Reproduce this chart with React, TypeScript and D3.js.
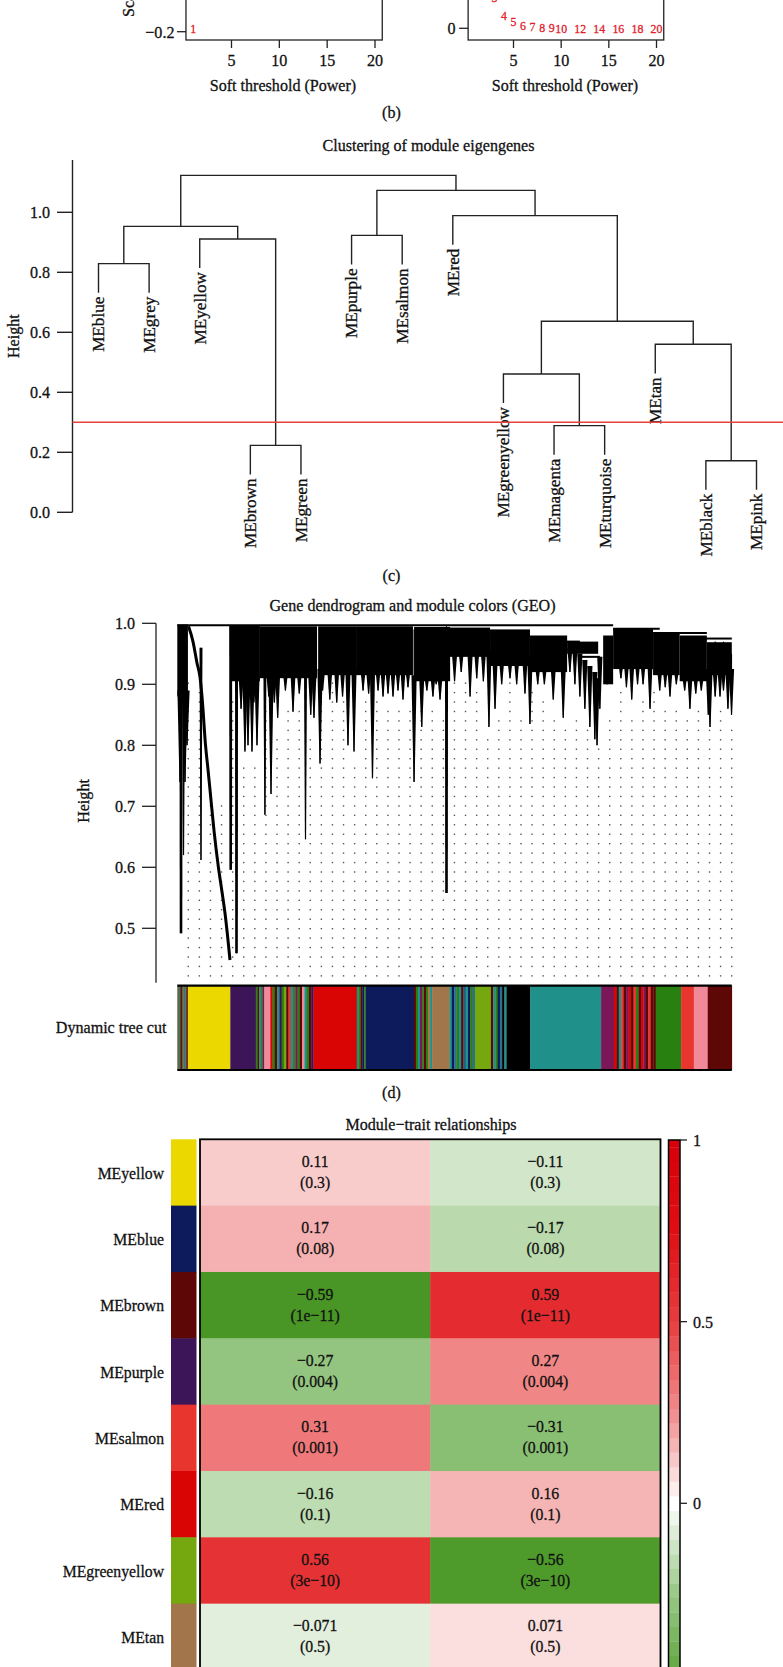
import React from 'react';
import * as d3 from 'd3';

const W = 783;
const H = 1667;
const FONT = '"Liberation Serif", "Times New Roman", serif';
const FS = 17.3;
const SX = 0.93;

// ---------- Panel (b): soft threshold ----------
const fitPowers = [1];
const fitValues = [-0.187];
const connPowers = [3, 4, 5, 6, 7, 8, 9, 10, 12, 14, 16, 18, 20];
const connValues = [112, 45, 23, 11, 5.7, 3.6, 1.1, 0, 0, 0, 0, 0, 0];
const powerTicks = [5, 10, 15, 20];

// ---------- Panel (c): module eigengene clustering ----------
const moduleLeaves = ['MEblue', 'MEgrey', 'MEyellow', 'MEbrown', 'MEgreen', 'MEpurple', 'MEsalmon', 'MEred',
  'MEgreenyellow', 'MEmagenta', 'MEturquoise', 'MEtan', 'MEblack', 'MEpink'];
// R-style merge matrix: negative = leaf (1-based), positive = earlier merge (1-based)
const mergeLeft = [-1, -4, -3, 1, -6, -10, -9, -13, -12, 7, -8, 5, 4];
const mergeRight = [-2, -5, 2, 3, -7, -11, 6, -14, 8, 9, 10, 11, 12];
const mergeHeight = [0.829, 0.223, 0.911, 0.953, 0.923, 0.289, 0.461, 0.172, 0.56, 0.637, 0.989, 1.073, 1.123];
const cutHeight = 0.3;
const heightTicks = [0, 0.2, 0.4, 0.6, 0.8, 1.0];

// ---------- Panel (d): gene dendrogram (leaf rank 0..1000) ----------
const clusterFrom = [0, 97, 149, 254, 324, 427, 490, 564, 636, 703, 768, 786, 858, 906, 955];
const clusterTo = [19, 149, 252, 324, 425, 492, 564, 636, 703, 759, 786, 858, 906, 955, 1000];
const clusterTop = [0.998, 0.997, 0.995, 0.995, 0.995, 0.994, 0.993, 0.99, 0.98, 0.97, 0.98, 0.992, 0.985, 0.98, 0.969];
const clusterCore = [0.88, 0.905, 0.91, 0.915, 0.915, 0.905, 0.945, 0.93, 0.92, 0.95, 0.9, 0.925, 0.915, 0.905, 0.915];
const spikeRank = [4.9, 6.7, 11.2, 13.9, 17.5, 42.7, 96.3, 106.8, 122, 127.5, 134.7, 143.7, 158, 169, 181, 208.7,
  231.2, 240.6, 246.5, 257.4, 287.5, 307.8, 318.7, 352, 371, 389, 407, 427, 440.8, 461, 473.8, 485.5, 528, 562,
  573, 627, 636, 678, 696, 708, 717, 726, 735, 744, 753, 757, 762, 819.5, 840, 852.5, 888.5, 924.5, 957.6, 960.7,
  978.7, 993, 999.5, 115, 138, 165, 175, 195, 220, 262, 275, 298, 335, 345, 362, 380, 398, 416, 450, 467, 500,
  512, 540, 552, 585, 600, 612, 650, 662, 688, 775, 800, 810, 830, 870, 880, 900, 915, 935, 945, 970, 985];
const spikeTop = [0.99, 0.99, 0.99, 0.99, 0.99, 0.96, 0.997, 0.985, 0.95, 0.95, 0.95, 0.95, 0.99, 0.99, 0.95, 0.95,
  0.99, 0.95, 0.95, 0.99, 0.95, 0.95, 0.95, 0.99, 0.95, 0.95, 0.95, 0.99, 0.95, 0.95, 0.95, 0.995, 0.95, 0.97,
  0.95, 0.95, 0.95, 0.95, 0.95, 0.97, 0.96, 0.95, 0.94, 0.93, 0.92, 0.91, 0.945, 0.95, 0.95, 0.95, 0.95, 0.95, 0.95, 0.95,
  0.95, 0.95, 0.95, 0.95, 0.95, 0.95, 0.95, 0.95, 0.95, 0.95, 0.95, 0.95, 0.95, 0.95, 0.95, 0.95, 0.95, 0.95,
  0.95, 0.95, 0.95, 0.97, 0.97, 0.97, 0.97, 0.97, 0.97, 0.97, 0.97, 0.97, 0.97, 0.97, 0.97, 0.97, 0.97, 0.97,
  0.97, 0.97, 0.97, 0.97, 0.97, 0.97, 0.97];
const spikeBottom = [0.74, 0.492, 0.62, 0.74, 0.8, 0.612, 0.596, 0.459, 0.79, 0.8, 0.79, 0.8, 0.686, 0.72, 0.845, 0.855,
  0.646, 0.85, 0.845, 0.77, 0.87, 0.8, 0.79, 0.746, 0.88, 0.88, 0.875, 0.74, 0.83, 0.88, 0.875, 0.558, 0.88, 0.83,
  0.86, 0.885, 0.835, 0.875, 0.845, 0.92, 0.9, 0.88, 0.86, 0.83, 0.81, 0.8, 0.86, 0.875, 0.9, 0.86, 0.88, 0.86, 0.85, 0.83,
  0.88, 0.86, 0.85, 0.86, 0.87, 0.88, 0.87, 0.89, 0.885, 0.89, 0.875, 0.88, 0.89, 0.885, 0.89, 0.885, 0.89,
  0.895, 0.89, 0.9, 0.905, 0.92, 0.91, 0.905, 0.9, 0.91, 0.9, 0.9, 0.9, 0.92, 0.9, 0.91, 0.895, 0.9, 0.89,
  0.895, 0.9, 0.89, 0.885, 0.89, 0.88, 0.89];
const slantRank = [20.2, 28.3, 35.5, 40.9, 46.3, 50, 55.4, 59, 66.2, 74, 80.6, 86, 91.5, 95];
const slantHeight = [0.995, 0.97, 0.935, 0.912, 0.86, 0.81, 0.76, 0.727, 0.66, 0.601, 0.56, 0.525, 0.48, 0.448];
const mergeLineFrom = [0, 786, 858, 944, 564, 672, 726];
const mergeLineTo = [786, 870, 955, 1000, 636, 726, 762];
const mergeLineHeight = [0.997, 0.991, 0.984, 0.975, 0.98, 0.97, 0.945];
const dotTopHeight = [0.92, 0.9, 0.716, 0.716, 0.89, 0.78, 0.78, 0.87, 0.83, 0.88, 0.88, 0.83, 0.91, 0.915, 0.89,
  0.785, 0.89, 0.885, 0.88, 0.88, 0.87, 0.87, 0.88, 0.86, 0.916, 0.916, 0.9, 0.83, 0.855, 0.93, 0.86, 0.9, 0.89,
  0.86, 0.84, 0.86, 0.84, 0.81, 0.86, 0.91, 0.86, 0.89, 0.9, 0.88, 0.88, 0.855, 0.88, 0.84, 0.88, 0.84];
const geneTicks = [0.5, 0.6, 0.7, 0.8, 0.9, 1.0];

// module colour strip
const mix1 = ['#7A5A3A', '#2E7D6E', '#5E0707', '#3B7A2A', '#8A4A5A', '#20918A', '#5E0707'];
const mix2 = ['#27800F', '#5E0707', '#20918A', '#3B7A2A', '#7B1657'];
const mix3 = ['#D90505', '#27800F', '#5E0707', '#20918A', '#3B1557', '#27800F', '#75A80F', '#5E0707', '#E8362F',
  '#20918A', '#3B7A2A', '#7B1657', '#27800F', '#5E0707', '#F08A9A', '#20918A', '#27800F', '#5E0707', '#3B1557', '#D90505'];
const mix4 = ['#20918A', '#27800F', '#5E0707', '#0D1A5C', '#3B7A2A'];
const mix5 = ['#5E0707', '#27800F', '#20918A', '#7B1657', '#3B7A2A', '#5E0707', '#27800F', '#A3754A', '#20918A'];
const mix6 = ['#20918A', '#0D1A5C', '#2E6E8E', '#27800F', '#20918A', '#5E0707', '#1F5F7F', '#20918A', '#0D1A5C',
  '#27800F', '#2E6E8E'];
const mix7 = ['#5E0707', '#20918A', '#27800F', '#0D1A5C', '#2E6E8E', '#000000', '#20918A'];
const mix9 = ['#D90505', '#5E0707', '#20918A', '#E8362F', '#5E0707', '#7B1657', '#D90505', '#5E0707', '#E8362F',
  '#27800F', '#5E0707', '#D90505', '#7B1657', '#5E0707', '#E8362F', '#5E0707', '#5E0707'];
const stripFrom = [0, 18.9, 95.6, 141.6, 156.9, 167.7, 249.7, 323.7, 340.1, 426.7, 459.5, 491, 536.8, 565.6, 593.9,
  636.4, 764.3, 787.2, 862.8, 908.6, 931.5, 956.6];
const stripTo = [18.9, 95.6, 141.6, 156.9, 167.7, 249.7, 323.7, 340.1, 426.7, 459.5, 491, 536.8, 565.6, 593.9, 636.4,
  764.3, 787.2, 862.8, 908.6, 931.5, 956.6, 1000];
const stripColors = [mix1, ['#EAD800'], ['#3B1557'], mix2, ['#F08A9A'], mix3, ['#D90505'], mix4, ['#0D1A5C'], mix5,
  ['#A3754A'], mix6, ['#75A80F'], mix7, ['#000000'], ['#20918A'], ['#7B1657'], mix9, ['#27800F'], ['#E8362F'],
  ['#F08A9A'], ['#5E0707']];

// ---------- Panel (e): module-trait relationships ----------
const traitRows = ['MEyellow', 'MEblue', 'MEbrown', 'MEpurple', 'MEsalmon', 'MEred', 'MEgreenyellow', 'MEtan'];
const rowColors = ['#EAD800', '#0D1A5C', '#5E0707', '#3B1557', '#E8362F', '#D90505', '#75A80F', '#A3754A'];
const traitCols = ['trait1', 'trait2'];
const corTrait1 = [0.11, 0.17, -0.59, -0.27, 0.31, -0.16, 0.56, -0.071];
const corTrait2 = [-0.11, -0.17, 0.59, 0.27, -0.31, 0.16, -0.56, 0.071];
const pValues = ['0.3', '0.08', '1e-11', '0.004', '0.001', '0.1', '3e-10', '0.5'];
const legendTicks = [1, 0.5, 0];
const paletteStops = [-1, -0.75, -0.5, -0.25, 0, 0.25, 0.5, 0.75, 1];
const paletteColors = ['#146E00', '#2D820A', '#58A236', '#99C886', '#FFFFFF', '#F18C8C', '#E73D3F', '#DE0F14', '#D7000A'];

const minus = (s: string) => s.replace(/-/g, '\u2212');

type TP = { x: number; y: number; a?: 'start' | 'middle' | 'end'; r?: number; s?: number; sx?: number; fill?: string; children: React.ReactNode };
const T = ({ x, y, a = 'middle', r = 0, s = FS, sx = SX, fill = '#111', children }: TP) => (
  <text transform={`translate(${x},${y})${r ? ` rotate(${r})` : ''} scale(${sx},1)`} dy="0.35em" textAnchor={a}
    fontFamily={FONT} fontSize={s} fill={fill} stroke={fill} strokeWidth={0.3}>{children}</text>
);

export default function App() {
  // ----- panel b scales
  const xL = d3.scaleLinear().domain([5, 20]).range([231.5, 375]);
  const xR = d3.scaleLinear().domain([5, 20]).range([513.5, 656.5]);
  const yL = d3.scaleLinear().domain([-0.2, 1]).range([31.7, -208.3]);
  const yR = d3.scaleLinear().domain([0, 1000]).range([28.3, -250]);
  const boxBottom = 40;

  // ----- panel c scales
  const xM = d3.scalePoint<string>().domain(moduleLeaves).range([98.5, 756.5]);
  const yM = d3.scaleLinear().domain([0, 1]).range([512.3, 212.3]);
  const hang = 0.097;
  const mergeX: number[] = [];
  const nodeX = (id: number) => (id < 0 ? (xM(moduleLeaves[-id - 1]) as number) : mergeX[id - 1]);
  mergeLeft.forEach((l, i) => {
    mergeX.push((nodeX(l) + nodeX(mergeRight[i])) / 2);
  });
  const nodeH = (id: number, parentH: number) => (id < 0 ? parentH - hang : mergeHeight[id - 1]);
  const leafEnd: Record<string, number> = {};
  mergeLeft.forEach((l, i) => {
    [l, mergeRight[i]].forEach((id) => {
      if (id < 0) leafEnd[moduleLeaves[-id - 1]] = mergeHeight[i] - hang;
    });
  });
  const dendroPaths = mergeLeft.map((l, i) => {
    const r = mergeRight[i];
    const h = mergeHeight[i];
    const p = d3.path();
    p.moveTo(nodeX(l), yM(nodeH(l, h)));
    p.lineTo(nodeX(l), yM(h));
    p.lineTo(nodeX(r), yM(h));
    p.lineTo(nodeX(r), yM(nodeH(r, h)));
    return p.toString();
  });

  // ----- panel d scales
  const xG = d3.scaleLinear().domain([0, 1000]).range([177.3, 731.8]);
  const yG = d3.scaleLinear().domain([0.4, 1.0]).range([989.3, 623.3]);
  const slantLine = d3.line<number>().x((_, i) => xG(slantRank[i])).y((d) => yG(d)).curve(d3.curveMonotoneX);
  const dotRows = d3.range(0.422, 0.95, 0.01548);
  const dots: { x: number; y: number }[] = [];
  dotTopHeight.forEach((top, k) => {
    const r = 20 * (k + 1) - 0.2;
    dotRows.forEach((v) => {
      if (v < top - 0.01) dots.push({ x: xG(r), y: yG(v) });
    });
  });
  const coreAt = (r: number, fallback: number) => {
    const i = clusterFrom.findIndex((f, j) => r >= f && r <= clusterTo[j]);
    return i >= 0 ? Math.min(clusterCore[i] + 0.01, fallback) : fallback;
  };
  const tipWidth = (i: number) => (spikeBottom[i] < 0.6 ? 2.6 : 1.1);
  const spikePolys = spikeRank.map((r, i) => {
    const base = coreAt(r, spikeTop[i]);
    const long = spikeBottom[i] < 0.72;
    const w = long ? 1.5 : 2.6;
    const x = xG(r);
    const bw = tipWidth(i) / 2;
    return [[x - w, yG(base)], [x + w, yG(base)], [x + bw, yG(spikeBottom[i])], [x - bw, yG(spikeBottom[i])]]
      .map((p) => p.join(',')).join(' ');
  });
  const stripY0 = 985.7;
  const stripY1 = 1070;

  // ----- panel e scales
  const yE = d3.scaleBand<string>().domain(traitRows).range([1139.3, 1670]);
  const xE = d3.scaleBand<string>().domain(traitCols).range([200, 660.5]);
  const colorE = d3.scaleLinear<string>().domain(paletteStops).range(paletteColors).interpolate(d3.interpolateRgb);
  const yLeg = d3.scaleLinear().domain([-1, 1]).range([1866.6, 1140]);
  const legBands = d3.range(-25, 26).map((k) => k * 0.04);

  return (
    <svg width={W} height={H} style={{ position: 'absolute', left: 0, top: 0, background: '#fff' }}
      xmlns="http://www.w3.org/2000/svg">
      <rect x={0} y={0} width={W} height={H} fill="#fff" />

      {/* ================= Panel b ================= */}
      <g>
        <rect x={xL(0.24)} y={-400} width={xL(20.76) - xL(0.24)} height={400 + boxBottom} fill="none" stroke="#222" strokeWidth={1.3} />
        <rect x={xR(0.24)} y={-400} width={xR(20.76) - xR(0.24)} height={400 + boxBottom} fill="none" stroke="#222" strokeWidth={1.3} />
        {powerTicks.map((t) => (
          <g key={'bt' + t}>
            <line x1={xL(t)} x2={xL(t)} y1={boxBottom} y2={boxBottom + 8} stroke="#222" strokeWidth={1.3} />
            <T x={xL(t)} y={60}>{t}</T>
            <line x1={xR(t)} x2={xR(t)} y1={boxBottom} y2={boxBottom + 8} stroke="#222" strokeWidth={1.3} />
            <T x={xR(t)} y={60}>{t}</T>
          </g>
        ))}
        <line x1={xL(0.24) - 9} x2={xL(0.24)} y1={yL(-0.2)} y2={yL(-0.2)} stroke="#222" strokeWidth={1.3} />
        <T x={xL(0.24) - 11.5} y={yL(-0.2)} a="end">{minus('-0.2')}</T>
        <line x1={xR(0.24) - 9} x2={xR(0.24)} y1={yR(0)} y2={yR(0)} stroke="#222" strokeWidth={1.3} />
        <T x={xR(0.24) - 12.5} y={yR(0)} a="end">0</T>
        <T x={128} y={17} r={-90} a="start">Scale free topology model fit, signed R²</T>
        <T x={283} y={85}>Soft threshold (Power)</T>
        <T x={565} y={85}>Soft threshold (Power)</T>
        {fitPowers.map((p, i) => (
          <T key={'f' + p} x={xL(p)} y={yL(fitValues[i])} s={12.5} sx={0.95} fill="#E3202A">{p}</T>
        ))}
        {connPowers.map((p, i) => (
          <T key={'c' + p} x={xR(p)} y={yR(connValues[i])} s={12.5} sx={0.95} fill="#E3202A">{p}</T>
        ))}
        <T x={391.5} y={112}>(b)</T>
      </g>

      {/* ================= Panel c ================= */}
      <g>
        <T x={428.5} y={145}>Clustering of module eigengenes</T>
        <line x1={72.5} x2={72.5} y1={160} y2={yM(0)} stroke="#222" strokeWidth={1.4} />
        {heightTicks.map((t) => (
          <g key={'ht' + t}>
            <line x1={57} x2={72.5} y1={yM(t)} y2={yM(t)} stroke="#222" strokeWidth={1.4} />
            <T x={50} y={yM(t)} a="end">{d3.format('.1f')(t)}</T>
          </g>
        ))}
        <T x={13} y={(160 + yM(0)) / 2} r={-90}>Height</T>
        {dendroPaths.map((d, i) => (
          <path key={'dp' + i} d={d} fill="none" stroke="#222" strokeWidth={1.4} />
        ))}
        {moduleLeaves.map((name) => (
          <T key={name} x={xM(name) as number} y={yM(leafEnd[name]) + 4} r={-90} a="end" s={16.8} sx={1.02}>{name}</T>
        ))}
        <line x1={72.5} x2={W} y1={yM(cutHeight)} y2={yM(cutHeight)} stroke="#E8403A" strokeWidth={1.6} />
        <T x={391.5} y={574.5}>(c)</T>
      </g>

      {/* ================= Panel d ================= */}
      <g>
        <T x={412.5} y={605}>Gene dendrogram and module colors (GEO)</T>
        <line x1={156} x2={156} y1={yG(1.0)} y2={982.7} stroke="#222" strokeWidth={1.3} />
        {geneTicks.map((t) => (
          <g key={'gt' + t}>
            <line x1={142} x2={156} y1={yG(t)} y2={yG(t)} stroke="#222" strokeWidth={1.3} />
            <T x={135} y={yG(t)} a="end">{d3.format('.1f')(t)}</T>
          </g>
        ))}
        <T x={83} y={801} r={-90}>Height</T>
        {dots.map((d, i) => (
          <rect key={'dot' + i} x={d.x - 0.7} y={d.y - 0.7} width={1.4} height={1.4} fill="#555" />
        ))}
        {clusterFrom.map((f, i) => (
          <rect key={'cl' + i} x={xG(f)} y={yG(clusterTop[i])} width={xG(clusterTo[i]) - xG(f)}
            height={yG(clusterCore[i]) - yG(clusterTop[i])} fill="#000" />
        ))}
        {spikeRank.map((r, i) => (
          <line key={'sl' + i} x1={xG(r)} x2={xG(r)} y1={yG(spikeTop[i])} y2={yG(spikeBottom[i])}
            stroke="#000" strokeWidth={1.1} />
        ))}
        {spikePolys.map((pts, i) => (
          <polygon key={'sp' + i} points={pts} fill="#000" />
        ))}
        <path d={slantLine(slantHeight) || ''} fill="none" stroke="#000" strokeWidth={3} />
        {mergeLineFrom.map((f, i) => (
          <line key={'ml' + i} x1={xG(f)} x2={xG(mergeLineTo[i])} y1={yG(mergeLineHeight[i])} y2={yG(mergeLineHeight[i])}
            stroke="#000" strokeWidth={2} />
        ))}
        {stripFrom.map((f, i) => {
          const cols = stripColors[i];
          const w = (xG(stripTo[i]) - xG(f)) / cols.length;
          return cols.map((c, j) => (
            <rect key={`st${i}-${j}`} x={xG(f) + j * w} y={stripY0} width={w + 0.3} height={stripY1 - stripY0} fill={c} />
          ));
        })}
        <line x1={xG(0)} x2={xG(1000)} y1={stripY0} y2={stripY0} stroke="#000" strokeWidth={2.2} />
        <line x1={xG(0)} x2={xG(1000)} y1={stripY1} y2={stripY1} stroke="#000" strokeWidth={2.2} />
        <T x={166.5} y={1027} a="end">Dynamic tree cut</T>
        <T x={391.5} y={1092}>(d)</T>
      </g>

      {/* ================= Panel e ================= */}
      <g>
        <T x={431} y={1124}>{minus('Module-trait relationships')}</T>
        {traitRows.map((row, i) => {
          const y0 = yE(row) as number;
          const bh = yE.bandwidth();
          const vals = [corTrait1[i], corTrait2[i]];
          return (
            <g key={row}>
              <rect x={171} y={y0} width={25.5} height={bh + 0.5} fill={rowColors[i]} />
              <T x={164} y={y0 + bh / 2} a="end" sx={0.91}>{row}</T>
              {traitCols.map((col, j) => {
                const x0 = xE(col) as number;
                const bw = xE.bandwidth();
                return (
                  <g key={col}>
                    <rect x={x0} y={y0} width={bw + 0.5} height={bh + 0.5} fill={colorE(vals[j])} />
                    <T x={x0 + bw / 2} y={y0 + bh / 2 - 11.5} s={17.5} sx={0.9}>{minus(String(vals[j]))}</T>
                    <T x={x0 + bw / 2} y={y0 + bh / 2 + 9.5} s={17.5} sx={0.9}>{`(${minus(pValues[i])})`}</T>
                  </g>
                );
              })}
            </g>
          );
        })}
        <rect x={200} y={1139.3} width={460.5} height={600} fill="none" stroke="#000" strokeWidth={1.8} />
        {legBands.map((c) => {
          const top = Math.min(1, c + 0.02);
          const bot = Math.max(-1, c - 0.02);
          return (
            <rect key={'lb' + c} x={668.5} y={yLeg(top)} width={11.5} height={yLeg(bot) - yLeg(top) + 0.3} fill={colorE(c)} />
          );
        })}
        <rect x={668.5} y={yLeg(1)} width={11.5} height={yLeg(-1) - yLeg(1)} fill="none" stroke="#000" strokeWidth={1.5} />
        {legendTicks.map((t) => (
          <g key={'lt' + t}>
            <line x1={680} x2={687} y1={yLeg(t)} y2={yLeg(t)} stroke="#222" strokeWidth={1.3} />
            <T x={693} y={yLeg(t)} a="start">{minus(String(t))}</T>
          </g>
        ))}
      </g>
    </svg>
  );
}
